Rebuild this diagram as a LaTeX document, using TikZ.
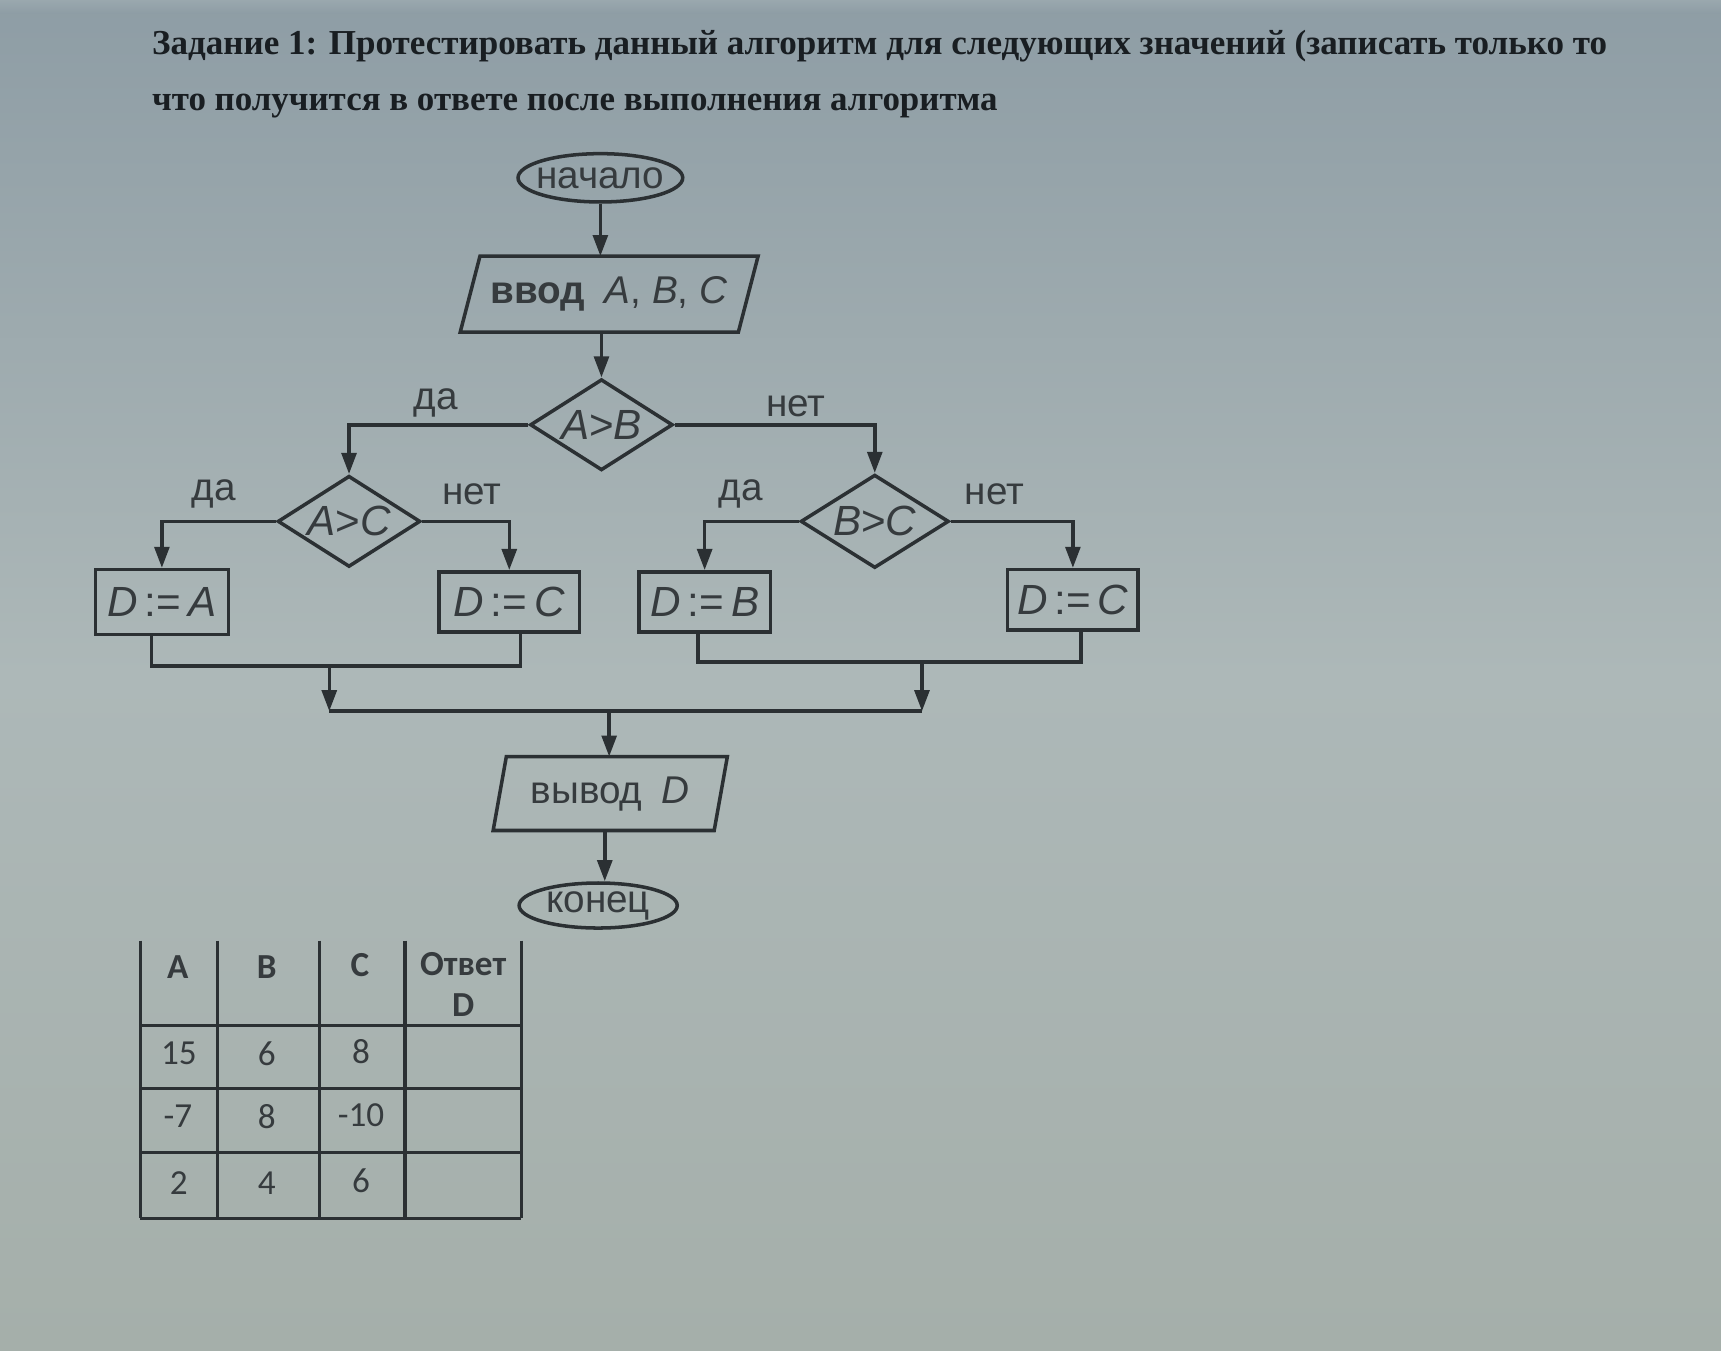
\documentclass[tikz,border=0pt]{standalone}
\usepackage{fontspec}
\setmainfont{Liberation Serif}
\setsansfont{Liberation Sans}
\newfontfamily\tabfont{Carlito}
\usetikzlibrary{shapes.geometric,arrows.meta,calc}
\newlength\pxu
\setlength\pxu{0.3123pt}
\definecolor{ink}{HTML}{2B3033}
\definecolor{txt}{HTML}{363B3E}
\definecolor{ttl}{HTML}{191E22}
\definecolor{bgtop}{HTML}{8E9DA5}
\definecolor{bgmid}{HTML}{ADB8B8}
\definecolor{bgbot}{HTML}{A5AFAA}
\definecolor{bgstrip}{HTML}{9AA8AE}
\tikzset{
  line/.style={draw=ink, line width=1pt},
  arr/.style={line, -{Triangle[length=6pt,width=4.2pt]}},
  term/.style={ellipse, draw=ink, line width=1pt, inner sep=0pt},
  dec/.style={diamond, draw=ink, line width=1pt, inner sep=0pt},
  proc/.style={rectangle, draw=ink, line width=1pt, inner sep=0pt, text=txt,
    font=\sffamily\fontsize{12}{14}\selectfont},
  io/.style={rectangle, inner sep=0pt, text=txt,
    font=\sffamily\fontsize{11}{13}\selectfont},
  lbl/.style={inner sep=0pt, text=txt, font=\sffamily\fontsize{11}{13}\selectfont},
  dtxt/.style={inner sep=0pt, text=txt, font=\sffamily\fontsize{12}{14}\selectfont},
  tline/.style={draw=ink, line width=0.9pt},
  cell/.style={inner sep=0pt, text=txt, font=\tabfont\fontsize{10}{12}\selectfont},
  head/.style={inner sep=0pt, text=txt, font=\tabfont\bfseries\fontsize{10}{11.6}\selectfont, align=center},
  ttlnode/.style={anchor=base west, inner sep=0pt, text=ttl, font=\bfseries}
}
\begin{document}
\begin{tikzpicture}[x=0.010976cm,y=-0.010976cm]
% background
\useasboundingbox (0,0) rectangle (1568,1230);
\shade[top color=bgtop, bottom color=bgbot, middle color=bgmid] (0,0) rectangle (1568,1230);
\shade[top color=bgstrip, bottom color=bgtop] (0,0) rectangle (1568,12);

% title
\node[ttlnode] (t1) at (138,50) {\resizebox{1325\pxu}{!}{Задание 1: Протестировать данный алгоритм для следующих значений (записать только то}};
\node[ttlnode] (t2) at (138,101) {\resizebox{770\pxu}{!}{что получится в ответе после выполнения алгоритма}};

% flowchart nodes
\node[term, minimum width={150*\pxu}, minimum height={44*\pxu}] (s) at (547,162) {};
\node[lbl] (st) at (s) {начало};
\node[io, minimum width={252*\pxu}, minimum height={68*\pxu}] (inp) at (555,268) {\textbf{ввод}\enspace\textit{A}, \textit{B}, \textit{C}};
\draw[line] ([xshift={9*\pxu}]inp.north west) -- ([xshift={9*\pxu}]inp.north east) -- ([xshift={-9*\pxu}]inp.south east) -- ([xshift={-9*\pxu}]inp.south west) -- cycle;

\node[dec, minimum width={130*\pxu}, minimum height={83*\pxu}] (d1) at (548,387) {};
\node[dtxt] (d1t) at (d1) {\textit{A}{>}\textit{B}};
\node[dec, minimum width={130*\pxu}, minimum height={83*\pxu}] (d2) at (318,475) {};
\node[dtxt] (d2t) at (d2) {\textit{A}{>}\textit{C}};
\node[dec, minimum width={135*\pxu}, minimum height={85*\pxu}] (d3) at (797,475) {};
\node[dtxt] (d3t) at (d3) {\textit{B}{>}\textit{C}};

\node[proc, minimum width={121*\pxu}, minimum height={59*\pxu}] (DA) at (147.5,548.5) {\textit{D}\,:=\,\textit{A}};
\node[proc, minimum width={128*\pxu}, minimum height={55*\pxu}] (DC1) at (464,548.5) {\textit{D}\,:=\,\textit{C}};
\node[proc, minimum width={120*\pxu}, minimum height={55*\pxu}] (DB) at (642,548.5) {\textit{D}\,:=\,\textit{B}};
\node[proc, minimum width={119*\pxu}, minimum height={55*\pxu}] (DC2) at (977.5,546.5) {\textit{D}\,:=\,\textit{C}};

\node[io, minimum width={200*\pxu}, minimum height={66*\pxu}] (out) at (556,723) {вывод\enspace\textit{D}};
\draw[line] ([xshift={6*\pxu}]out.north west) -- ([xshift={6*\pxu}]out.north east) -- ([xshift={-6*\pxu}]out.south east) -- ([xshift={-6*\pxu}]out.south west) -- cycle;

\node[term, minimum width={144*\pxu}, minimum height={41*\pxu}] (e) at (545,825) {};
\node[lbl] (et) at (e) {конец};

% labels
\node[lbl] (l1) at (397,367) {да};
\node[lbl] (l2) at (725,370) {нет};
\node[lbl] (l3) at (195,450) {да};
\node[lbl] (l4) at (430,450) {нет};
\node[lbl] (l5) at (675,450) {да};
\node[lbl] (l6) at (906,450) {нет};

% connectors
\draw[arr] (s.south) -- (s.south |- inp.north);
\draw[arr] (d1.north |- inp.south) -- (d1.north);
\draw[arr] (d1.west) -| (d2.north);
\draw[arr] (d1.east) -| (d3.north);
\draw[arr] (d2.west) -| (DA.north);
\draw[arr] (d2.east) -| (DC1.north);
\draw[arr] (d3.west) -| (DB.north);
\draw[arr] (d3.east) -| (DC2.north);

\coordinate (m1) at (300,607);
\coordinate (m2) at (840,603);
\coordinate (j1) at (300,648);
\coordinate (j2) at (840,648);
\coordinate (j) at (555,648);
\draw[line] ([xshift={-9.5*\pxu}]DA.south) |- (m1) -| ([xshift={10*\pxu}]DC1.south);
\draw[line] ([xshift={-6*\pxu}]DB.south) |- (m2) -| ([xshift={7.5*\pxu}]DC2.south);
\draw[arr] (m1) -- (j1);
\draw[arr] (m2) -- (j2);
\draw[line] (j1) -- (j2);
\draw[arr] (j) -- (j |- out.north);
\draw[arr] ([xshift={-5*\pxu}]out.south) -- ([xshift={-5*\pxu}]out.south |- e.north);

% table
\foreach \cx in {128,198,291,369,475} \draw[tline] (\cx,857) -- (\cx,1110);
\foreach \cy in {934,992,1050,1110} \draw[tline] (128,\cy) -- (475,\cy);
\node[head] (hA) at (162,881) {A};
\node[head] (hB) at (243,881) {B};
\node[head] (hC) at (328,879) {C};
\node[head] (hD) at (422,897) {Ответ\\D};
\node[cell] (a1) at (163,960) {15};
\node[cell] (b1) at (243,960) {6};
\node[cell] (c1) at (329,958) {8};
\node[cell] (a2) at (162,1017) {-7};
\node[cell] (b2) at (243,1017) {8};
\node[cell] (c2) at (329,1016) {-10};
\node[cell] (a3) at (163,1078) {2};
\node[cell] (b3) at (243,1078) {4};
\node[cell] (c3) at (329,1076) {6};
\end{tikzpicture}
\end{document}
